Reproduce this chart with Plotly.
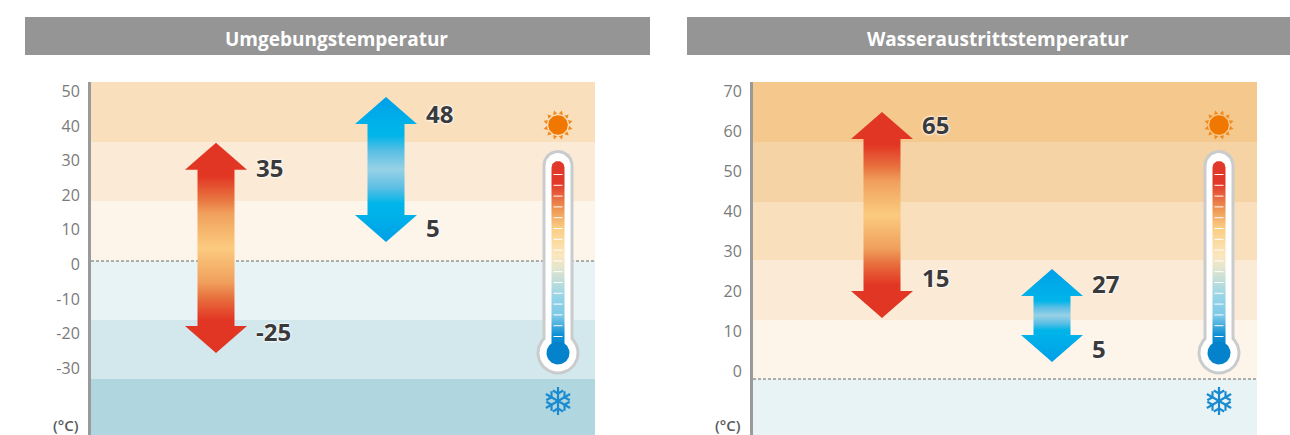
import math
import plotly.graph_objects as go

# ---------- data ----------
titles = ["Umgebungstemperatur", "Wasseraustrittstemperatur"]
left_ticks = [50, 40, 30, 20, 10, 0, -10, -20, -30]
right_ticks = [70, 60, 50, 40, 30, 20, 10, 0]
unit_label = "(°C)"

# band edges as read on each axis (top to bottom)
left_band_edges = [52.75, 35.4, 18.35, 1.0, -16.0, -33.1, -49.3]
right_band_edges = [72.25, 57.25, 42.25, 27.75, 12.75, -2.0, -16.0]
left_band_colors = ["#FADFBC", "#FBEAD6", "#FEF5EA", "#E8F3F5", "#D2E8EC", "#B0D6E0"]
right_band_colors = ["#F5C88E", "#F6D3A4", "#F9DFBB", "#FBEAD6", "#FEF5EA", "#E8F3F5"]

# rated limits (labels) and the drawn arrow extents read on the axes
left_heat_labels = ["35", "-25"]
left_heat_extent = [35.2, -25.6]
left_heat_label_y = [26.95, -20.5]
left_cool_labels = ["48", "5"]
left_cool_extent = [48.4, 6.5]
left_cool_label_y = [42.7, 9.6]

right_heat_labels = ["65", "15"]
right_heat_extent = [64.75, 13.25]
right_heat_label_y = [60.65, 22.55]
right_cool_labels = ["27", "5"]
right_cool_extent = [25.5, 2.25]
right_cool_label_y = [21.05, 4.65]

# ---------- layout constants (pixels) ----------
W, H = 1290, 435
PANEL_W = 504
PLOT_TOP = 82
LEFT_X0, RIGHT_X0 = 91, 753
LEFT_ARROW_X = [125, 295]
RIGHT_ARROW_X = [129, 299]
SHAFT, HEAD_W, HEAD_H = 18.5, 31, 27
LABEL_DX = 40
THERMO_DX = 661

HEAT = ["#E23624", "#E23624", [(0.08, "#E23624"), (0.36, "#E8703E"), (0.56, "#F0A05C")], "#FBCB7F"]
COOL = ["#009FE8", "#00B2E9", [(0.25, "#00B5E9"), (0.6, "#5CBFE4")], "#97D1E6"]

fig = go.Figure()


def arrow(xa, ya, cx, extent, scale, cols):
    top, bot = extent
    hh = HEAD_H / scale
    xs = [cx, cx + HEAD_W, cx + SHAFT, cx + SHAFT, cx + HEAD_W, cx,
          cx - HEAD_W, cx - SHAFT, cx - SHAFT, cx - HEAD_W, cx]
    ys = [top, top - hh, top - hh, bot + hh, bot + hh, bot,
          bot + hh, bot + hh, top - hh, top - hh, top]
    f = hh / (top - bot)
    half = [[0, cols[0]], [f, cols[1]]]
    half += [[f + (0.5 - f) * t, c] for t, c in cols[2]]
    half += [[0.5, cols[3]]]
    mirror = [[1 - p, c] for p, c in reversed(half[:-1])]
    fig.add_trace(go.Scatter(x=xs, y=ys, xaxis=xa, yaxis=ya, mode="lines",
                             line=dict(width=0), fill="toself",
                             fillgradient=dict(type="vertical", colorscale=half + mirror),
                             hoverinfo="skip", showlegend=False))


def labels(xa, ya, cx, ly, txt):
    fig.add_trace(go.Scatter(
        x=[cx + LABEL_DX] * len(ly), y=ly, text=txt, xaxis=xa, yaxis=ya, mode="text",
        textposition="middle right", hoverinfo="skip", showlegend=False,
        textfont=dict(family="Open Sans", size=24, color="#3A3A3A", weight="bold",
                      shadow="0 0 2px #fff, 0 0 2px #fff, 0 0 3px #fff")))


def poly(xs, ys, color):
    fig.add_trace(go.Scatter(x=xs, y=ys, xaxis="x3", yaxis="y3", mode="lines",
                             line=dict(width=0), fill="toself", fillcolor=color,
                             hoverinfo="skip", showlegend=False))


def circle(cx, cy, r, color):
    t = [2 * math.pi * i / 72 for i in range(73)]
    poly([cx + r * math.cos(a) for a in t], [cy + r * math.sin(a) for a in t], color)


def capsule(cx, top, bot, hw):
    t = [math.pi + math.pi * i / 24 for i in range(25)]
    xs = [cx + hw * math.cos(a) for a in t] + [cx + hw, cx - hw, cx - hw]
    ys = [top + hw + hw * math.sin(a) for a in t] + [bot, bot, top + hw]
    return xs, ys


def thermometer(dx):
    cx = 558 + dx
    xs, ys = capsule(cx, 150, 350, 15.5)
    poly(xs, ys, "#C9CBCC")
    circle(cx, 353, 21.5, "#C9CBCC")
    xs, ys = capsule(cx, 153, 350, 12.5)
    poly(xs, ys, "#FFFFFF")
    circle(cx, 353, 18.5, "#FFFFFF")
    xs, ys = capsule(cx, 161, 350, 6.5)
    cs = [[0, "#E2382A"], [0.12, "#E2382A"], [0.26, "#EE9A55"], [0.36, "#FBCF85"],
          [0.5, "#FBE6BE"], [0.56, "#E6E6CC"], [0.72, "#97D4E8"], [0.82, "#7CC8E6"],
          [0.92, "#0D90D5"], [1, "#0482CC"]]
    fig.add_trace(go.Scatter(x=xs, y=ys, xaxis="x3", yaxis="y3", mode="lines",
                             line=dict(width=0), fill="toself",
                             fillgradient=dict(type="vertical", colorscale=cs,
                                               start=161, stop=350),
                             hoverinfo="skip", showlegend=False))
    circle(cx, 353, 11.5, "#0482CC")
    tx, ty = [], []
    for i in range(16):
        y = 174.5 + i * 10.8
        tx += [cx - 4.5, cx + 4.5, None]
        ty += [y, y, None]
    fig.add_trace(go.Scatter(x=tx, y=ty, xaxis="x3", yaxis="y3", mode="lines",
                             line=dict(width=1, color="#FFFFFF"),
                             hoverinfo="skip", showlegend=False))
    # sun
    sx, sy = cx, 125
    circle(sx, sy, 9.8, "#F07800")
    for i in range(12):
        a = math.pi / 12 + i * math.pi / 6
        px, py = math.cos(a), math.sin(a)
        poly([sx + 11 * px - 2.2 * py, sx + 15 * px, sx + 11 * px + 2.2 * py],
             [sy + 11 * py + 2.2 * px, sy + 15 * py, sy + 11 * py - 2.2 * px], "#F28A1E")
    # snowflake
    fx, fy, sl_x, sl_y = cx, 401, [], []
    for i in range(6):
        a = math.pi / 2 + i * math.pi / 3
        ux, uy = math.cos(a), math.sin(a)
        sl_x += [fx, fx + 14 * ux, None]
        sl_y += [fy, fy + 14 * uy, None]
        for sgn in (-1, 1):
            b = a + sgn * math.pi / 3
            sl_x += [fx + 7.5 * ux, fx + 7.5 * ux + 6 * math.cos(b), None]
            sl_y += [fy + 7.5 * uy, fy + 7.5 * uy + 6 * math.sin(b), None]
    fig.add_trace(go.Scatter(x=sl_x, y=sl_y, xaxis="x3", yaxis="y3", mode="lines",
                             line=dict(width=2.2, color="#1B8BD0"),
                             hoverinfo="skip", showlegend=False))


panels = [
    ("x", "y", LEFT_X0, LEFT_ARROW_X, left_band_edges, left_band_colors, left_ticks, 3.46,
     [(left_heat_extent, HEAT, left_heat_label_y, left_heat_labels),
      (left_cool_extent, COOL, left_cool_label_y, left_cool_labels)], 3),
    ("x2", "y2", RIGHT_X0, RIGHT_ARROW_X, right_band_edges, right_band_colors, right_ticks, 4.0,
     [(right_heat_extent, HEAT, right_heat_label_y, right_heat_labels),
      (right_cool_extent, COOL, right_cool_label_y, right_cool_labels)], 5),
]
shapes, annotations = [], []
layout_axes = {}
for xa, ya, x0, centers, edges, cols, ticks, scale, arrows, zero_idx in panels:
    xn = "xaxis" + xa[1:]
    yn = "yaxis" + ya[1:]
    layout_axes[xn] = dict(domain=[x0 / W, (x0 + PANEL_W) / W], range=[0, PANEL_W],
                           visible=False, anchor=ya, fixedrange=True, automargin=False)
    layout_axes[yn] = dict(domain=[0, 1 - PLOT_TOP / H], range=[edges[-1], edges[0]],
                           anchor=xa, tickmode="array", tickvals=ticks,
                           ticktext=[str(t) for t in ticks], showgrid=False, zeroline=False,
                           showline=True, linewidth=3, linecolor="#9A9A9A", ticks="",
                           ticklabelstandoff=5, automargin=False,
                           tickfont=dict(family="Open Sans", size=16, color="#7A7A7A"),
                           fixedrange=True)
    for i, c in enumerate(cols):
        shapes.append(dict(type="rect", xref=xa, yref=ya, x0=0, x1=PANEL_W,
                           y0=edges[i], y1=edges[i + 1], fillcolor=c, line_width=0,
                           layer="below"))
    shapes.append(dict(type="line", xref=xa, yref=ya, x0=0, x1=PANEL_W,
                       y0=edges[zero_idx], y1=edges[zero_idx],
                       line=dict(color="#666666", width=1, dash="3px,2px"), layer="below"))
    for cx, (ext, c, ly, txt) in zip(centers, arrows):
        arrow(xa, ya, cx, ext, scale, c)
    for cx, (ext, c, ly, txt) in zip(centers, arrows):
        labels(xa, ya, cx, ly, txt)
    annotations.append(dict(xref="paper", yref="paper", x=(x0 - 10) / W, y=1 - 425 / H,
                            xanchor="right", yanchor="middle", text=unit_label, showarrow=False,
                            font=dict(family="Open Sans", size=15, color="#5A5A5A", weight=600)))

for x0, x1, tx, title in [(25, 650, 337, titles[0]), (687, 1290, 998, titles[1])]:
    shapes.append(dict(type="rect", xref="paper", yref="paper", x0=x0 / W, x1=x1 / W,
                       y0=1 - 55 / H, y1=1 - 17 / H, fillcolor="#959595", line_width=0))
    annotations.append(dict(xref="paper", yref="paper", x=tx / W, y=1 - 39 / H,
                            xanchor="center", yanchor="middle", text=title, showarrow=False,
                            font=dict(family="Open Sans", size=19, color="#FFFFFF", weight="bold")))

thermometer(0)
thermometer(THERMO_DX)

fig.update_layout(
    width=W, height=H, margin=dict(l=0, r=0, t=0, b=0), autosize=False,
    paper_bgcolor="#FFFFFF", plot_bgcolor="rgba(0,0,0,0)", showlegend=False,
    hovermode=False, shapes=shapes, annotations=annotations,
    xaxis3=dict(domain=[0, 1], range=[0, W], visible=False, anchor="y3", fixedrange=True, automargin=False),
    yaxis3=dict(domain=[0, 1], range=[H, 0], visible=False, anchor="x3", fixedrange=True, automargin=False),
    **layout_axes,
)
fig.write_html("out.html", config={"displayModeBar": False},
               post_script="document.body.style.margin='0';document.body.style.overflow='hidden';")
